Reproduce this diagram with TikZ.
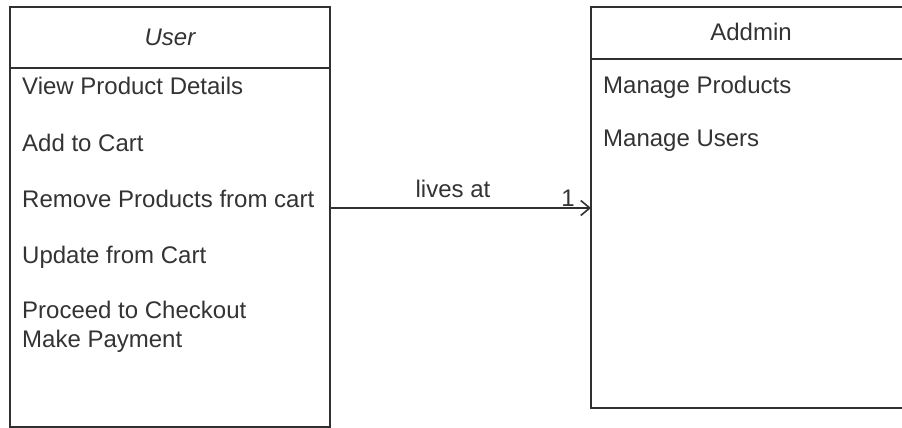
\documentclass[tikz,border=0pt]{standalone}
\usepackage{fontspec}
\setmainfont{Liberation Sans}
\usetikzlibrary{arrows.meta}
\definecolor{ink}{HTML}{303030}
\definecolor{txt}{HTML}{333333}
\tikzset{
  x=1pt, y=-1pt,
  frame/.style={draw=ink, line width=1.6pt},
  item/.style={anchor=base west, inner sep=0pt, text=txt, font=\fontsize{24}{29}\selectfont},
  title/.style={anchor=base, inner sep=0pt, text=txt, font=\fontsize{24}{29}\selectfont},
  assoc/.style={draw=ink, line width=1.6pt, -{Straight Barb[length=9pt,width=15pt,line width=1.6pt]}},
}
\begin{document}
\begin{tikzpicture}
\useasboundingbox (0,0) rectangle (902,428);
\clip (0,0) rectangle (902,428);

% User class
\draw[frame] (10,7) rectangle (330,427);
\draw[frame] (10,68) -- (330,68);
\node[title, font=\fontsize{24}{29}\selectfont\itshape] (usertitle) at (170,46) {User};
\node[item] (u1) at (22,95) {View Product Details};
\node[item] (u2) at (22,151) {Add to Cart};
\node[item] (u3) at (22,207) {Remove Products from cart};
\node[item] (u4) at (22,263) {Update from Cart};
\node[item] (u5) at (22,318) {Proceed to Checkout};
\node[item] (u6) at (22,347) {Make Payment};
\coordinate (userR) at (330,208);

% Addmin class
\draw[frame] (591,7) rectangle (911,408);
\draw[frame] (591,59) -- (911,59);
\node[title] (admintitle) at (751,41) {Addmin};
\node[item] (a1) at (603,93) {Manage Products};
\node[item] (a2) at (603,146) {Manage Users};
\coordinate (adminL) at (591,208);

% association
\draw[assoc] (userR) -- (adminL);
\node[title] (lbl) at (453,197) {lives at};
\node[title] (mult) at (568,206) {1};
\end{tikzpicture}
\end{document}
